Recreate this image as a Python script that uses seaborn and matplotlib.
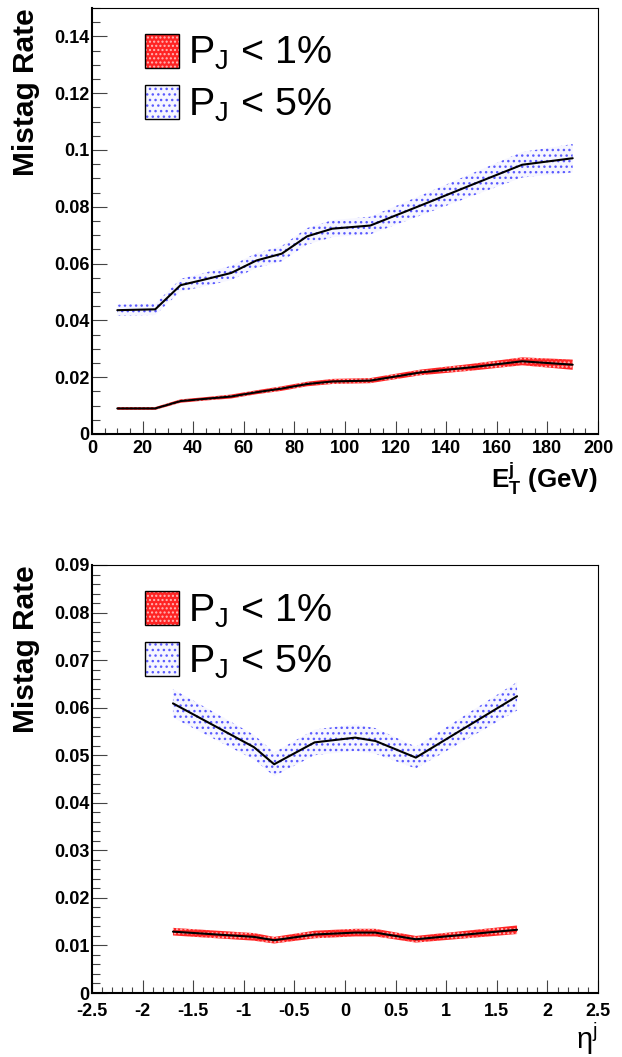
import matplotlib
matplotlib.use("Agg")
import matplotlib.pyplot as plt
import numpy as np
import seaborn as sns
from matplotlib.patches import Patch
from matplotlib.ticker import MultipleLocator, FuncFormatter

# --- data ---
et_bins = [10, 25, 35, 45, 55, 65, 75, 85, 95, 110, 130, 150, 170, 190]
et_rate_5 = [0.0436, 0.0439, 0.0524, 0.0545, 0.0567, 0.0611, 0.0635, 0.0696,
             0.0723, 0.0734, 0.0805, 0.0877, 0.0948, 0.0971]
et_err_5 = [0.0020, 0.0020, 0.0022, 0.0024, 0.0025, 0.0026, 0.0027, 0.0029,
            0.0030, 0.0031, 0.0035, 0.0040, 0.0045, 0.0050]
et_rate_1 = [0.0090, 0.0090, 0.0116, 0.0124, 0.0132, 0.0147, 0.0160, 0.0176,
             0.0185, 0.0188, 0.0217, 0.0235, 0.0256, 0.0244]
et_err_1 = [0.0005, 0.0005, 0.0006, 0.0006, 0.0007, 0.0007, 0.0008, 0.0008,
            0.0009, 0.0009, 0.0010, 0.0012, 0.0014, 0.0018]

eta_bins = [-1.7, -0.9, -0.7, -0.3, 0.1, 0.3, 0.7, 1.7]
eta_rate_5 = [0.0609, 0.0517, 0.0481, 0.0527, 0.0537, 0.0530, 0.0495, 0.0624]
eta_err_5 = [0.0030, 0.0026, 0.0025, 0.0027, 0.0028, 0.0027, 0.0023, 0.0030]
eta_rate_1 = [0.0129, 0.0118, 0.0111, 0.0123, 0.0127, 0.0127, 0.0113, 0.0133]
eta_err_1 = [0.0008, 0.0008, 0.0007, 0.0008, 0.0008, 0.0008, 0.0007, 0.0009]

labels = [r"P$_{\mathrm{J}}$ < 1%", r"P$_{\mathrm{J}}$ < 5%"]

sns.set_style("ticks")
plt.rcParams.update({
    "font.family": ["Liberation Sans", "DejaVu Sans"],
    "mathtext.fontset": "custom",
    "mathtext.rm": "Liberation Sans",
    "mathtext.it": "Liberation Sans:italic",
    "mathtext.bf": "Liberation Sans:bold",
    "hatch.linewidth": 1.0,
    "text.color": "black",
    "axes.labelcolor": "black",
    "axes.edgecolor": "black",
    "xtick.color": "black",
    "ytick.color": "black",
})

RED_FC, RED_HC = "#ff2424", "#ffb8b8"
BLUE_FC, BLUE_HC = "#f6f6ff", "#5a5aff"

fig = plt.figure(figsize=(6.22, 10.57), dpi=100)
ax_top = fig.add_axes([92 / 622, 1 - 434 / 1057, 506 / 622, 426 / 1057])
ax_bot = fig.add_axes([92 / 622, 1 - 993 / 1057, 506 / 622, 428 / 1057])


def draw_band(ax, x, y, err, fc, hc, hatch):
    y = np.array(y)
    err = np.array(err)
    ax.fill_between(x, y - err, y + err, facecolor=fc, edgecolor=hc,
                    hatch=hatch, linewidth=0, zorder=2)
    sns.lineplot(x=x, y=y, ax=ax, color="black", linewidth=1.5, zorder=3)


def style_axes(ax, xlim, ylim, xmaj, xmin, ymaj, ymin, xpad=4.5):
    ax.set_xlim(*xlim)
    ax.set_ylim(*ylim)
    ax.xaxis.set_major_locator(MultipleLocator(xmaj))
    ax.xaxis.set_minor_locator(MultipleLocator(xmin))
    ax.yaxis.set_major_locator(MultipleLocator(ymaj))
    ax.yaxis.set_minor_locator(MultipleLocator(ymin))
    fmt = FuncFormatter(lambda v, p: "%g" % round(v, 6))
    ax.xaxis.set_major_formatter(fmt)
    ax.yaxis.set_major_formatter(fmt)
    ax.tick_params(axis="both", which="both", direction="in", top=False,
                   right=False, color="#444444", width=0.8)
    ax.tick_params(axis="y", which="major", length=10.8, pad=1.7)
    ax.tick_params(axis="y", which="minor", length=5.4)
    ax.tick_params(axis="x", which="major", length=9.1, pad=xpad)
    ax.tick_params(axis="x", which="minor", length=4.5)
    for t in ax.get_xticklabels() + ax.get_yticklabels():
        t.set_fontsize(13)
        t.set_fontweight("bold")
    for s in ["left", "bottom"]:
        ax.spines[s].set_linewidth(1.5)
    for s in ["top", "right"]:
        ax.spines[s].set_linewidth(0.8)
    ax.set_ylabel("Mistag Rate", fontsize=21.5, fontweight="bold", loc="top")
    ax.yaxis.set_label_coords(-0.1036, 1.0)

    handles = [
        (Patch(facecolor=RED_FC, edgecolor=RED_HC, hatch="....", linewidth=0),
         Patch(fill=False, edgecolor="black", linewidth=1)),
        (Patch(facecolor=BLUE_FC, edgecolor=BLUE_HC, hatch="...", linewidth=0),
         Patch(fill=False, edgecolor="black", linewidth=1)),
    ]
    ax.legend(handles, labels, loc="upper left", bbox_to_anchor=(0.1047, 0.94),
              frameon=False, fontsize=28.4, handlelength=0.86,
              handleheight=0.95, handletextpad=0.23, labelspacing=0.32,
              borderpad=0, borderaxespad=0)


# top panel: E_T
draw_band(ax_top, et_bins, et_rate_1, et_err_1, RED_FC, RED_HC, "....")
draw_band(ax_top, et_bins, et_rate_5, et_err_5, BLUE_FC, BLUE_HC, "...")
style_axes(ax_top, (0, 200), (0, 0.15), 20, 5, 0.02, 0.005)
ax_top.set_xlabel(r"$\mathbf{E}_{\mathbf{T}}^{\mathbf{j}}$ (GeV)", fontsize=18.7,
                  fontweight="bold", loc="right")
ax_top.xaxis.label.set_va("baseline")
ax_top.xaxis.set_label_coords(1.0, -0.126)

# bottom panel: eta
draw_band(ax_bot, eta_bins, eta_rate_1, eta_err_1, RED_FC, RED_HC, "....")
draw_band(ax_bot, eta_bins, eta_rate_5, eta_err_5, BLUE_FC, BLUE_HC, "...")
style_axes(ax_bot, (-2.5, 2.5), (0, 0.09), 0.5, 0.1, 0.01, 0.002, xpad=7)
ax_bot.set_xlabel(r"η$^{\mathrm{j}}$", fontsize=21, loc="right")
ax_bot.xaxis.label.set_va("baseline")
ax_bot.xaxis.set_label_coords(1.0, -0.130)

fig.savefig("out.png", dpi=100)
